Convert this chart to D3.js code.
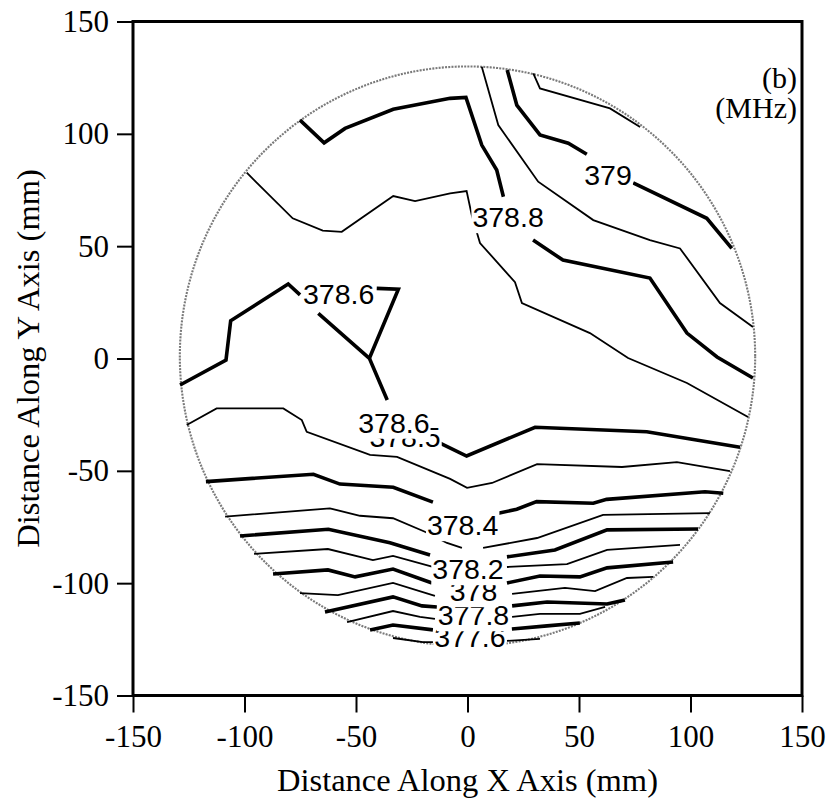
<!DOCTYPE html>
<html>
<head>
<meta charset="utf-8">
<script src="https://cdn.jsdelivr.net/npm/d3@7"></script>
<style>
  html, body { margin: 0; padding: 0; background: #fff; }
  svg { display: block; }
</style>
</head>
<body>
<svg id="chart" width="832" height="804"></svg>
<script>
// Axis ticks (mm)
const xTicks = [-150, -100, -50, 0, 50, 100, 150];
const yTicks = [-150, -100, -50, 0, 50, 100, 150];

// Wafer outline (mm)
const waferCenter = [0, 1];
const waferRadius = 129;

// Contour lines of resonant frequency (MHz); each is a list of pieces of [x, y] in mm
const line3791 = [[[29.5,126.9],[32.5,120.2],[63.9,111.3],[77.4,103.0]]];
const line3790 = [[[17.8,128.4],[22.1,112.8],[32.5,99.5],[45.2,95.8],[53.5,90.9]],
                  [[74.3,78.2],[107.3,62.4],[118.5,49.0]]];
const line3789 = [[[6.4,129.9],[13.8,103.9],[31.7,78.7],[56.4,61.6],[81.8,52.7],[95.3,49.0],[113.2,24.7],[128.0,14.0]]];
const line3788 = [[[-75.1,106.1],[-64.3,96.0],[-54.9,102.4],[-33.3,110.9],[-7.8,115.8],[-0.7,116.2],[6.4,95.0],[13.1,83.9],[16.1,72.0]],
                  [[29.4,52.7],[42.8,43.8],[81.8,35.8],[98.4,11.3],[111.9,0.7],[128.0,-8.7]]];
const line3787 = [[[-99.0,82.7],[-78.4,62.4],[-64.9,56.9],[-56.4,56.4],[-33.3,72.3],[-23.5,70.1],[-7.8,73.5],[-0.4,74.5],[1.9,63.9],[5.6,51.4],[21.3,34.0],[24.4,24.7],[54.9,11.3],[72.0,0.2],[98.4,-10.9],[125.8,-26.0]]];
const line3786 = [[[-128.9,-11.8],[-108.3,-0.7],[-106.2,16.8],[-80.4,33.2],[-75.1,28.3]],
                  [[-66.9,20.1],[-44.0,0.1],[-36.0,-18.5]],
                  [[-40.7,31.2],[-31.0,30.8],[-44.0,0.1]],
                  [[-12.3,-37.7],[-0.4,-43.4],[30.3,-30.6],[80.4,-32.6],[122.2,-39.5]]];
const line3785 = [[[-125.9,-29.6],[-112.5,-22.2],[-82.6,-22.2],[-74.3,-27.4],[-72.1,-32.6],[-43.7,-42.9],[-31.6,-43.8],[-7.8,-53.6],[-0.2,-57.6],[11.0,-55.4],[31.2,-47.0],[69.3,-48.3],[93.9,-46.1],[117.7,-50.1]]];
const line3784 = [[[-117.3,-54.8],[-69.1,-51.5],[-57.2,-55.9],[-33.3,-57.3],[-15.5,-63.9]],
                  [[13.8,-68.9],[22.1,-67.1],[31.0,-63.7],[56.4,-64.4],[62.4,-62.7],[106.5,-59.3],[114.7,-60.0]]];
const line3783 = [[[-108.7,-70.4],[-61.7,-66.7],[-48.2,-70.0],[-33.4,-71.1],[-19.1,-77.1],[-9.2,-82.1],[-2.5,-84.3]],
                  [[7.0,-84.3],[31.2,-79.9],[60.8,-69.6],[108.7,-68.8]]];
const line3782 = [[[-102.0,-79.0],[-62.4,-76.0],[-34.8,-82.0],[-16.8,-87.5]],
                  [[17.7,-88.3],[39.2,-85.2],[62.6,-76.3],[103.4,-75.9]]];
const line3781 = [[[-95.7,-87.0],[-62.6,-84.8],[-42.4,-89.7],[-33.4,-87.9],[-15.5,-92.8]],
                  [[17.7,-92.8],[44.6,-91.5],[62.6,-85.2],[95.3,-83.0]]];
const line3780 = [[[-87.2,-95.9],[-62.6,-94.1],[-50.4,-97.2],[-33.4,-93.7],[-15.9,-99.9]],
                  [[17.7,-99.9],[32.5,-96.8],[50.4,-97.2],[62.6,-93.2],[92.2,-90.6]]];
const line3779 = [[[-75.1,-104.4],[-58.1,-105.3],[-33.4,-99.9],[-14.6,-105.7]],
                  [[20.0,-104.8],[43.7,-102.1],[57.2,-103.5],[71.5,-97.7],[83.2,-97.2]]];
const line3778 = [[[-63.9,-112.8],[-33.4,-106.1],[-20.4,-110.1],[-13.7,-110.6]],
                  [[20.0,-110.1],[35.7,-108.4],[62.6,-109.3],[70.6,-107.5]]];
const line3777 = [[[-54.0,-117.3],[-33.4,-112.4],[-21.3,-115.0],[-14.6,-115.9]],
                  [[20.0,-115.0],[32.5,-113.7],[50.4,-113.7],[61.7,-110.6]]];
const line3776 = [[[-43.7,-120.8],[-33.4,-118.6],[-15.5,-120.8]],
                  [[19.9,-120.4],[35.7,-119.0],[50.4,-117.7]]];
const line3775 = [[[-33.4,-124.4],[-20.0,-126.2],[-15.5,-126.2]],
                  [[17.7,-125.7],[32.5,-124.8]]];

const contourLevels = [379.1, 379.0, 378.9, 378.8, 378.7, 378.6, 378.5, 378.4,
                       378.3, 378.2, 378.1, 378.0, 377.9, 377.8, 377.7, 377.6, 377.5];
const contourLines = [line3791, line3790, line3789, line3788, line3787, line3786, line3785, line3784,
                      line3783, line3782, line3781, line3780, line3779, line3778, line3777, line3776, line3775];

// Contour labels (text centre in mm), listed in drawing order
const labelTexts = ["379", "378.8", "378.6", "378.5", "378.6", "377.6", "377.8", "378", "378.2", "378.4"];
const labelX = [63.0, 18.2, -57.8, -28.0, -33.0, 1.1, 2.7, 2.7, 0.2, -2.2];
const labelY = [81.7, 63.0, 28.7, -34.9, -28.5, -123.9, -114.2, -103.5, -93.7, -74.1];

const svg = d3.select("#chart");
const plot = { left: 133, right: 802, top: 21.5, bottom: 695.5 };

const x = d3.scaleLinear().domain([-150, 150]).range([plot.left, plot.right]);
const y = d3.scaleLinear().domain([-150, 150]).range([plot.bottom, plot.top]);

const serif = "'Liberation Serif', 'Times New Roman', Times, serif";
const sans = "'Liberation Sans', Arial, Helvetica, sans-serif";

// Wafer edge: grey stippled ring
svg.append("ellipse")
  .attr("cx", x(waferCenter[0]))
  .attr("cy", y(waferCenter[1]))
  .attr("rx", x(waferRadius) - x(0))
  .attr("ry", y(0) - y(waferRadius))
  .attr("fill", "none")
  .attr("stroke", "#7a7a7a")
  .attr("stroke-width", 2.1)
  .attr("stroke-dasharray", "2 1.2");

// Contours: even tenths drawn heavy, odd tenths light
const lineGen = d3.line().x(d => x(d[0])).y(d => y(d[1]));
const contourG = svg.append("g");
contourLines.forEach((pieces, i) => {
  const heavy = Math.round(contourLevels[i] * 10) % 2 === 0;
  contourG.selectAll(null)
    .data(pieces)
    .join("path")
    .attr("d", lineGen)
    .attr("fill", "none")
    .attr("stroke", "#000")
    .attr("stroke-width", heavy ? 3.6 : 1.8)
    .attr("stroke-linejoin", "miter")
    .attr("stroke-miterlimit", 3);
});

// Contour labels on white knockouts
const labelG = svg.append("g");
const labelSize = 28.5;
labelTexts.forEach((t, i) => {
  const g = labelG.append("g");
  const txt = g.append("text")
    .attr("x", x(labelX[i]))
    .attr("y", y(labelY[i]) + labelSize * 0.358)
    .attr("text-anchor", "middle")
    .attr("font-family", sans)
    .attr("font-size", labelSize)
    .attr("fill", "#000")
    .text(t);
  const bb = txt.node().getBBox();
  g.insert("rect", "text")
    .attr("x", bb.x - 1)
    .attr("y", bb.y)
    .attr("width", bb.width + 2)
    .attr("height", bb.height)
    .attr("fill", "#fff");
});

// Axes (plain hyphen for negative tick values)
const tickFmt = d => String(d);
const yAxis = d3.axisLeft(y).tickValues(yTicks).tickSize(16).tickSizeOuter(0).tickPadding(8)
  .tickFormat(tickFmt);
const xAxis = d3.axisBottom(x).tickValues(xTicks).tickSize(17).tickSizeOuter(0).tickPadding(12)
  .tickFormat(tickFmt);

const gy = svg.append("g").attr("transform", `translate(${plot.left},0)`).call(yAxis);
const gx = svg.append("g").attr("transform", `translate(0,${plot.bottom})`).call(xAxis);
[gx, gy].forEach(g => {
  g.select(".domain").remove();
  g.selectAll(".tick line").attr("stroke", "#000").attr("stroke-width", 2);
  g.selectAll(".tick text")
    .attr("fill", "#000")
    .attr("font-family", serif)
    .attr("font-size", 31);
});

// Plot frame
svg.append("rect")
  .attr("x", plot.left)
  .attr("y", plot.top)
  .attr("width", plot.right - plot.left)
  .attr("height", plot.bottom - plot.top)
  .attr("fill", "none")
  .attr("stroke", "#000")
  .attr("stroke-width", 3);

// Axis titles
svg.append("text")
  .attr("x", (plot.left + plot.right) / 2)
  .attr("y", 791)
  .attr("text-anchor", "middle")
  .attr("font-family", serif)
  .attr("font-size", 32.5)
  .attr("fill", "#000")
  .text("Distance Along X Axis (mm)");

svg.append("text")
  .attr("transform", `translate(39,${(plot.top + plot.bottom) / 2}) rotate(-90)`)
  .attr("text-anchor", "middle")
  .attr("font-family", serif)
  .attr("font-size", 32.5)
  .attr("fill", "#000")
  .text("Distance Along Y Axis (mm)");

// Panel tag and unit
svg.append("text")
  .attr("x", 797).attr("y", 88)
  .attr("text-anchor", "end")
  .attr("font-family", serif)
  .attr("font-size", 30)
  .attr("fill", "#000")
  .text("(b)");
svg.append("text")
  .attr("x", 797).attr("y", 118)
  .attr("text-anchor", "end")
  .attr("font-family", serif)
  .attr("font-size", 30)
  .attr("fill", "#000")
  .text("(MHz)");
</script>
</body>
</html>
